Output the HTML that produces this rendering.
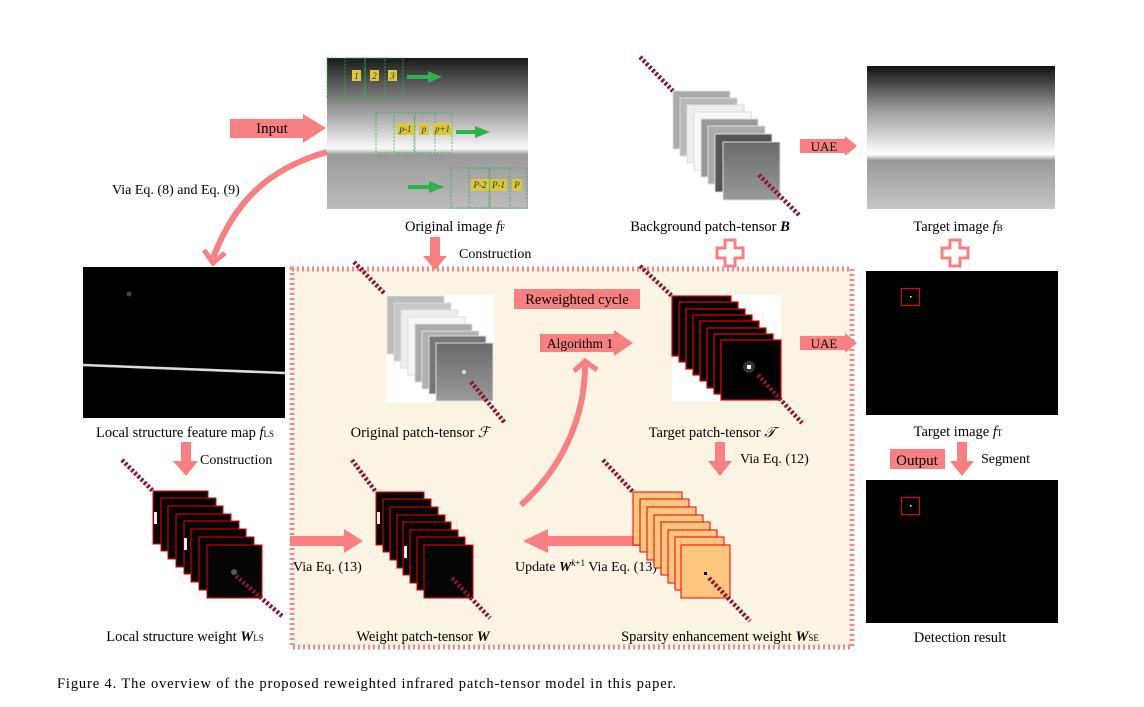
<!DOCTYPE html>
<html><head><meta charset="utf-8"><style>
html,body{margin:0;padding:0;background:#fff;}
svg{display:block;font-family:"Liberation Serif",serif;}
</style></head><body>
<svg width="1144" height="707" viewBox="0 0 1144 707" xmlns="http://www.w3.org/2000/svg">
<defs>
<linearGradient id="gF" x1="0" y1="0" x2="0" y2="1">
<stop offset="0" stop-color="#1a1a1a"/><stop offset="0.3" stop-color="#8a8a8a"/><stop offset="0.6" stop-color="#fafafa"/><stop offset="0.64" stop-color="#9a9a9a"/><stop offset="1" stop-color="#bcbcbc"/>
</linearGradient>
<linearGradient id="gB" x1="0" y1="0" x2="0" y2="1">
<stop offset="0" stop-color="#111"/><stop offset="0.3" stop-color="#999"/><stop offset="0.62" stop-color="#fff"/><stop offset="0.66" stop-color="#999"/><stop offset="1" stop-color="#c6c6c6"/>
</linearGradient>
<linearGradient id="gP" x1="0" y1="0" x2="0" y2="1">
<stop offset="0" stop-color="#6a6a6a"/><stop offset="1" stop-color="#9a9a9a"/>
</linearGradient>
</defs>

<rect x="292" y="269" width="560" height="378" fill="#fcf4e3" stroke="#f28a8a" stroke-width="5" stroke-dasharray="2,3"/>

<rect x="327" y="58" width="201" height="151" fill="url(#gF)"/>
<g fill="none" stroke="#2db34a" stroke-width="0.8" stroke-dasharray="2,1.5">
<rect x="327" y="58" width="76" height="40"/><rect x="345" y="58" width="20" height="40"/><rect x="365" y="58" width="20" height="40"/>
<rect x="376" y="113" width="76" height="40"/><rect x="394" y="113" width="20" height="40"/><rect x="415" y="113" width="20" height="40"/>
<rect x="451" y="168" width="76" height="40"/><rect x="469" y="168" width="20" height="40"/><rect x="490" y="168" width="20" height="40"/>
</g>
<g fill="#d8c83a"><rect x="352" y="70" width="9" height="11"/><rect x="370" y="70" width="9" height="11"/><rect x="388" y="70" width="9" height="11"/>
<rect x="397" y="123" width="17" height="12"/><rect x="419" y="123" width="10" height="12"/><rect x="433" y="123" width="19" height="12"/>
<rect x="471" y="179" width="18" height="12"/><rect x="490" y="179" width="17" height="12"/><rect x="512" y="179" width="10" height="12"/></g>
<g font-size="9" fill="#333" text-anchor="middle" font-style="italic"><text x="356.5" y="79">1</text><text x="374.5" y="79">2</text><text x="392.5" y="79">3</text>
<text x="405.5" y="132">p-1</text><text x="424" y="132">p</text><text x="442.5" y="132">p+1</text>
<text x="480" y="188">P-2</text><text x="498.5" y="188">P-1</text><text x="517" y="188">P</text></g>
<g fill="#2db34a"><rect x="407" y="75" width="22" height="4"/><polygon points="428,71 442,77 428,83"/>
<rect x="456" y="130" width="20" height="4"/><polygon points="475,126 490,132 475,138"/>
<rect x="408" y="185" width="22" height="4"/><polygon points="429,181 444,187 429,193"/></g>

<polygon points="230,119 303,119 303,114 326,128 303,143 303,138 230,138" fill="#f98080"/>
<text x="272" y="133" font-size="15" text-anchor="middle">Input</text>
<path d="M327,152 C270,168 235,200 213,258" fill="none" stroke="#f98080" stroke-width="6"/>
<polyline points="204,250 213,263 225,253" fill="none" stroke="#f98080" stroke-width="5"/>
<text x="112" y="194" font-size="14">Via Eq. (8) and Eq. (9)</text>
<text x="455" y="231" font-size="14.5" text-anchor="middle">Original image <tspan font-style="italic">f</tspan><tspan font-size="9">F</tspan></text>
<polygon points="430,237 440,237 440,256 447,256 435,270 423,256 430,256" fill="#f98080"/>
<text x="459" y="258" font-size="14">Construction</text>

<rect x="83" y="267" width="202" height="151" fill="#000"/>
<path d="M83,365 L285,373" stroke="#ddd" stroke-width="2.5"/>
<circle cx="129" cy="294" r="2.5" fill="#444"/>
<text x="185" y="437" font-size="14.5" text-anchor="middle">Local structure feature map <tspan font-style="italic">f</tspan><tspan font-size="9">LS</tspan></text>
<polygon points="181,442 191,442 191,461 198,461 186,476 173,461 181,461" fill="#f98080"/>
<text x="200" y="464" font-size="14">Construction</text>

<g stroke="#8c1236" stroke-width="4.5" stroke-dasharray="2.5,2">
<line x1="122" y1="460" x2="153" y2="491"/>
<line x1="352" y1="460" x2="376" y2="492"/>
<line x1="603" y1="460" x2="633" y2="492"/>
<line x1="354" y1="262" x2="385" y2="294"/>
<line x1="640" y1="266" x2="672" y2="296"/>
<line x1="640" y1="57" x2="673" y2="91"/>
</g>

<g stroke="#e00" stroke-width="1" fill="#050505">
<rect x="153" y="491" width="55" height="53"/><rect x="161" y="498" width="55" height="53"/><rect x="168" y="506" width="55" height="53"/><rect x="176" y="514" width="55" height="53"/><rect x="184" y="521" width="55" height="53"/><rect x="191" y="529" width="55" height="53"/><rect x="199" y="537" width="55" height="53"/><rect x="207" y="545" width="55" height="53"/>
</g>
<rect x="154" y="512" width="3" height="12" fill="#eee"/><rect x="184" y="538" width="3" height="12" fill="#eee"/>
<circle cx="234" cy="572" r="3" fill="#555"/>
<line x1="236" y1="576" x2="282" y2="616" stroke="#8c1236" stroke-width="4.5" stroke-dasharray="2.5,2"/>
<text x="185" y="641" font-size="14.5" text-anchor="middle">Local structure weight <tspan font-style="italic" font-weight="bold">W</tspan><tspan font-size="9">LS</tspan></text>

<polygon points="290,536 344,536 344,529 363,541 344,553 344,546 290,546" fill="#f98080"/>
<text x="293" y="571" font-size="14">Via Eq. (13)</text>

<g stroke="#e00" stroke-width="1" fill="#050505">
<rect x="376" y="492" width="48" height="53"/><rect x="383" y="499" width="48" height="53"/><rect x="390" y="507" width="48" height="53"/><rect x="397" y="515" width="48" height="53"/><rect x="403" y="522" width="48" height="53"/><rect x="410" y="530" width="48" height="53"/><rect x="417" y="537" width="48" height="53"/><rect x="424" y="545" width="49" height="53"/>
</g>
<rect x="377" y="512" width="3" height="12" fill="#eee"/><rect x="404" y="546" width="3" height="12" fill="#eee"/>
<line x1="452" y1="578" x2="490" y2="618" stroke="#8c1236" stroke-width="4.5" stroke-dasharray="2.5,2"/>
<text x="423" y="641" font-size="14.5" text-anchor="middle">Weight patch-tensor <tspan font-style="italic" font-weight="bold">W</tspan></text>

<polygon points="650,536 548,536 548,529 523,541 548,553 548,546 650,546" fill="#f98080"/>
<text x="586" y="571" font-size="14" text-anchor="middle">Update <tspan font-style="italic" font-weight="bold">W</tspan><tspan font-size="9" dy="-5" font-style="italic">k</tspan><tspan font-size="9">+1</tspan><tspan dy="5"> Via Eq. (13)</tspan></text>

<g stroke="#e00" stroke-width="1" fill="#fdc67f">
<rect x="633" y="492" width="49" height="53"/><rect x="640" y="499" width="49" height="53"/><rect x="647" y="507" width="49" height="53"/><rect x="654" y="515" width="49" height="53"/><rect x="661" y="522" width="49" height="53"/><rect x="668" y="530" width="49" height="53"/><rect x="675" y="537" width="49" height="53"/><rect x="681" y="545" width="49" height="53"/>
</g>
<rect x="704" y="572" width="3" height="3" fill="#000"/>
<line x1="709" y1="578" x2="750" y2="621" stroke="#8c1236" stroke-width="4.5" stroke-dasharray="2.5,2"/>
<text x="720" y="641" font-size="14.5" text-anchor="middle">Sparsity enhancement weight <tspan font-style="italic" font-weight="bold">W</tspan><tspan font-size="9">SE</tspan></text>

<polygon points="715,442 725,442 725,461 732,461 720,476 708,461 715,461" fill="#f98080"/>
<text x="740" y="463" font-size="14">Via Eq. (12)</text>

<rect x="386" y="295" width="108" height="107" fill="#fff"/>
<g stroke="#ddd" stroke-width="1">
<rect x="387" y="296" width="57" height="58" fill="#bbb"/><rect x="394" y="303" width="57" height="58" fill="#c8c8c8"/><rect x="401" y="310" width="57" height="58" fill="#eee"/><rect x="408" y="317" width="57" height="58" fill="#f6f6f6"/><rect x="415" y="324" width="57" height="58" fill="#aaa"/><rect x="422" y="331" width="57" height="58" fill="#b0b0b0"/><rect x="429" y="336" width="57" height="58" fill="#777"/><rect x="436" y="343" width="57" height="58" fill="url(#gP)"/>
</g>
<circle cx="464" cy="372" r="2" fill="#ddd"/>
<line x1="471" y1="382" x2="505" y2="423" stroke="#8c1236" stroke-width="4.5" stroke-dasharray="2.5,2"/>
<text x="420" y="437" font-size="14.5" text-anchor="middle">Original patch-tensor <tspan font-style="italic">ℱ</tspan></text>

<rect x="514" y="289" width="126" height="20" fill="#f98080"/>
<text x="577" y="304" font-size="14.5" text-anchor="middle">Reweighted cycle</text>
<polygon points="540,334 614,334 614,330 633,343 614,356 614,352 540,352" fill="#f98080"/>
<text x="580" y="348" font-size="13.5" text-anchor="middle">Algorithm 1</text>
<path d="M521,505 C560,470 585,420 585,365" fill="none" stroke="#f98080" stroke-width="6"/>
<polyline points="574,371 585,361 597,370" fill="none" stroke="#f98080" stroke-width="5"/>

<rect x="672" y="295" width="109" height="106" fill="#fff"/>
<g stroke="#e00" stroke-width="1.2" fill="#000">
<rect x="672" y="296" width="59" height="60"/><rect x="679" y="302" width="59" height="60"/><rect x="686" y="309" width="59" height="60"/><rect x="693" y="315" width="59" height="60"/><rect x="700" y="321" width="59" height="60"/><rect x="707" y="328" width="59" height="60"/><rect x="714" y="334" width="59" height="60"/><rect x="721" y="340" width="60" height="60"/>
</g>
<circle cx="749" cy="367" r="6" fill="#333"/><rect x="747" y="365" width="4" height="4" fill="#fff"/>
<line x1="758" y1="375" x2="802" y2="423" stroke="#8c1236" stroke-width="4.5" stroke-dasharray="2.5,2"/>
<text x="712" y="437" font-size="14.5" text-anchor="middle">Target patch-tensor <tspan font-style="italic">𝒯</tspan></text>

<g stroke="#ddd" stroke-width="1">
<rect x="673" y="91" width="57" height="58" fill="#aaa"/><rect x="680" y="98" width="57" height="58" fill="#b8b8b8"/><rect x="687" y="105" width="57" height="58" fill="#eee"/><rect x="694" y="112" width="57" height="58" fill="#f8f8f8"/><rect x="701" y="119" width="57" height="58" fill="#999"/><rect x="708" y="126" width="57" height="58" fill="#aaa"/><rect x="715" y="134" width="57" height="58" fill="#555"/><rect x="723" y="142" width="57" height="58" fill="url(#gP)"/>
</g>
<line x1="759" y1="175" x2="800" y2="216" stroke="#8c1236" stroke-width="4.5" stroke-dasharray="2.5,2"/>
<text x="710" y="231" font-size="14.5" text-anchor="middle">Background patch-tensor <tspan font-style="italic" font-weight="bold">B</tspan></text>

<g fill="none" stroke="#f98080" stroke-width="3">
<path d="M725,240 h10 v8 h8 v10 h-8 v8 h-10 v-8 h-8 v-10 h8 z"/>
<path d="M950,240 h10 v8 h8 v10 h-8 v8 h-10 v-8 h-8 v-10 h8 z"/>
</g>

<polygon points="800,139 845,139 845,136 857,146 845,156 845,153 800,153" fill="#f98080"/>
<text x="824" y="151" font-size="13" text-anchor="middle">UAE</text>
<polygon points="800,336 845,336 845,333 857,343 845,353 845,350 800,350" fill="#f98080"/>
<text x="824" y="348" font-size="13" text-anchor="middle">UAE</text>

<rect x="867" y="66" width="188" height="143" fill="url(#gB)"/>
<text x="958" y="231" font-size="14.5" text-anchor="middle">Target image <tspan font-style="italic">f</tspan><tspan font-size="9">B</tspan></text>
<rect x="866" y="271" width="192" height="144" fill="#000"/>
<rect x="901.5" y="288.5" width="18" height="17" fill="none" stroke="#e00" stroke-width="1"/>
<rect x="910" y="296" width="1.5" height="1.5" fill="#fff"/>
<text x="958" y="436" font-size="14.5" text-anchor="middle">Target image <tspan font-style="italic">f</tspan><tspan font-size="9">T</tspan></text>
<rect x="890" y="449" width="55" height="20" fill="#f98080"/>
<text x="917" y="465" font-size="15" text-anchor="middle">Output</text>
<polygon points="957,442 967,442 967,461 974,461 962,476 950,461 957,461" fill="#f98080"/>
<text x="981" y="463" font-size="14">Segment</text>
<rect x="866" y="480" width="192" height="143" fill="#000"/>
<rect x="901.5" y="497.5" width="18" height="17" fill="none" stroke="#e00" stroke-width="1"/>
<rect x="910" y="505" width="1.5" height="1.5" fill="#fff"/>
<text x="960" y="642" font-size="14.5" text-anchor="middle">Detection result</text>

<text x="57" y="688" font-size="14.5" textLength="619" lengthAdjust="spacing">Figure 4.  The overview of the proposed reweighted infrared patch-tensor model in this paper.</text>
</svg>
</body></html>
